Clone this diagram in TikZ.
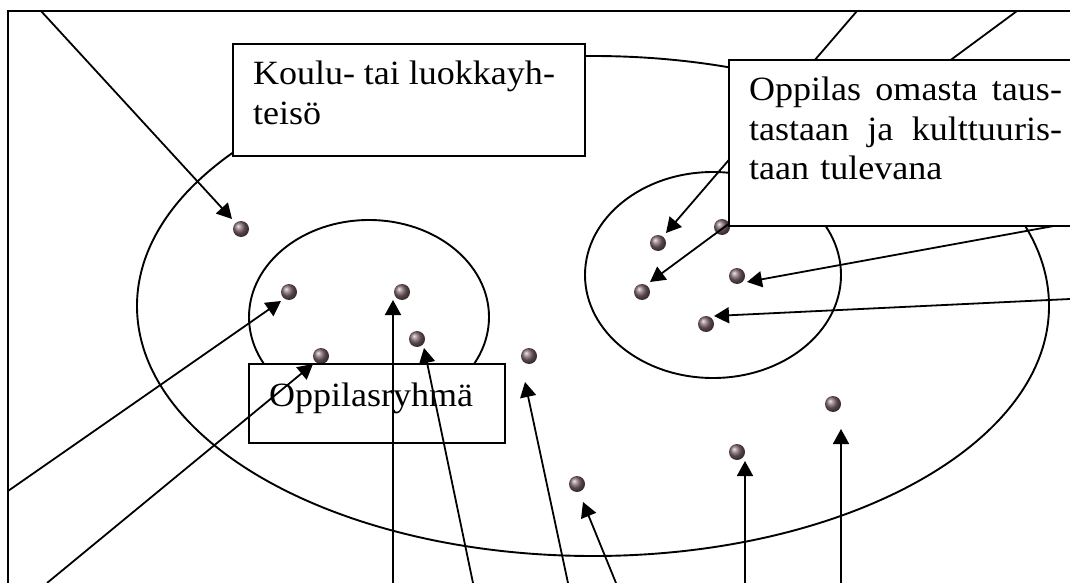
\documentclass[tikz,border=0pt]{standalone}
\usepackage{fontspec}
\setmainfont{Liberation Serif}[FakeStretch=1.06]
\usetikzlibrary{arrows.meta}
\definecolor{pearl}{RGB}{125,100,105}
\begin{document}
\begin{tikzpicture}[x=1pt,y=-1pt,
  outline/.style={line width=1.9pt},
  lbl/.style={draw, line width=1.9pt, fill=white, inner xsep=20pt, inner ysep=0pt,
    outer sep=0pt, align=left, anchor=north west, font=\fontsize{34}{39.5}\selectfont},
  pearlnode/.style={circle, minimum size=16pt, inner sep=0pt, ball color=pearl},
  conn/.style={line width=1.8pt, -{Triangle[length=15pt,width=16pt]}}]
\useasboundingbox (0,0) rectangle (1070,583);
\clip (0,0) rectangle (1070,583);

% frame
\draw[outline] (8,600) -- (8,11) -- (1090,11);

% community, group and individual circles
\draw[outline] (593,306) ellipse [x radius=456, y radius=250];
\draw[outline] (369,317) ellipse [x radius=120, y radius=97];
\draw[outline] (713,275) ellipse [x radius=128, y radius=103];

% pupils
\node[pearlnode] (b1)  at (241,229) {};
\node[pearlnode] (b2)  at (289,292) {};
\node[pearlnode] (b3)  at (402,292) {};
\node[pearlnode] (b4)  at (321,356) {};
\node[pearlnode] (b5)  at (417,339) {};
\node[pearlnode] (b6)  at (529,356) {};
\node[pearlnode] (b7)  at (658,243) {};
\node[pearlnode] (b8)  at (722,227) {};
\node[pearlnode] (b9)  at (642,292) {};
\node[pearlnode] (b10) at (737,276) {};
\node[pearlnode] (b11) at (706,324) {};
\node[pearlnode] (b12) at (833,404) {};
\node[pearlnode] (b13) at (737,452) {};
\node[pearlnode] (b14) at (577,484) {};

% arrow end points near the pupils
\coordinate (tA) at ([shift={(-9,-10)}]b1.center);
\coordinate (tB) at ([shift={(-8,9)}]b2.center);
\coordinate (tC) at ([shift={(-8,8)}]b4.center);
\coordinate (tD) at ([shift={(-9,8)}]b3.center);
\coordinate (tE) at ([shift={(7,9)}]b5.center);
\coordinate (tF) at ([shift={(-4,26)}]b6.center);
\coordinate (tG) at ([shift={(6,18)}]b14.center);
\coordinate (tH) at ([shift={(8,9)}]b13.center);
\coordinate (tI) at ([shift={(8,25)}]b12.center);
\coordinate (tJ) at ([shift={(8,-10)}]b7.center);
\coordinate (tK) at ([shift={(8,-10)}]b9.center);
\coordinate (tL) at ([shift={(10,6)}]b10.center);
\coordinate (tM) at ([shift={(8,-8)}]b11.center);

% arrow start points on the edges
\coordinate (sA) at (41,11);
\coordinate (sB) at (8,491);
\coordinate (sC) at (47,583);
\coordinate (sD) at (393,583);
\coordinate (sE) at (473,583);
\coordinate (sF) at (568,583);
\coordinate (sG) at (616,583);
\coordinate (sH) at (745,583);
\coordinate (sI) at (841,583);
\coordinate (sJ) at (857,11);
\coordinate (sK) at (1017,11);
\coordinate (sL) at (1070,223);
\coordinate (sM) at (1070,299);

% arrows passing under the label boxes
\draw[conn] (sJ) -- (tJ);
\draw[conn] (sK) -- (tK);
\draw[conn] (sL) -- (tL);

% labels (justified lines set as full-width boxes)
\node[lbl, text width=312pt, text height=41pt, text depth=71pt] (koulu) at (233,44)
  {\makebox[302pt][l]{Koulu-\hfill tai\hfill luokkayh-}\\teisö};
\node[lbl, text width=323pt, text height=41pt, text depth=125pt] (tausta) at (729,60)
  {\makebox[313pt][l]{Oppilas\hfill omasta\hfill taus-}\\\makebox[313pt][l]{tastaan\hfill ja\hfill kulttuuris-}\\taan tulevana};
\node[lbl, text width=216pt, text height=42pt, text depth=37pt] (ryhma) at (249,364)
  {Oppilasryhmä};

% remaining arrows
\draw[conn] (sA) -- (tA);
\draw[conn] (sB) -- (tB);
\draw[conn] (sC) -- (tC);
\draw[conn] (sD) -- (tD);
\draw[conn] (sE) -- (tE);
\draw[conn] (sF) -- (tF);
\draw[conn] (sG) -- (tG);
\draw[conn] (sH) -- (tH);
\draw[conn] (sI) -- (tI);
\draw[conn] (sM) -- (tM);
\end{tikzpicture}
\end{document}
